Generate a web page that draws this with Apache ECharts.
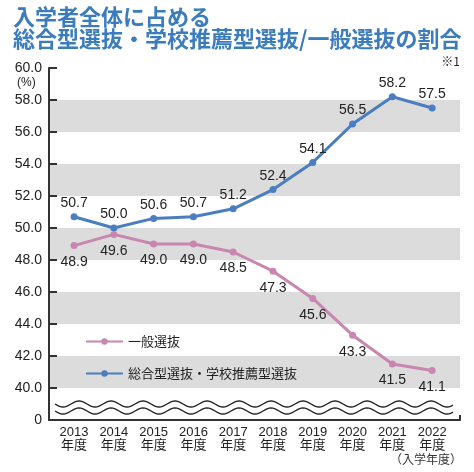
<!DOCTYPE html>
<html><head><meta charset="utf-8">
<script src="https://cdn.jsdelivr.net/npm/echarts@6/dist/echarts.min.js"></script>
<style>html,body{margin:0;padding:0;background:#fff}#c{width:474px;height:472px}</style>
</head><body><div id="c"></div>
<script>
const years = [2013, 2014, 2015, 2016, 2017, 2018, 2019, 2020, 2021, 2022];
const sogoValues = [50.7, 50.0, 50.6, 50.7, 51.2, 52.4, 54.1, 56.5, 58.2, 57.5];
const ippanValues = [48.9, 49.6, 49.0, 49.0, 48.5, 47.3, 45.6, 43.3, 41.5, 41.1];
const yTicks = [40, 42, 44, 46, 48, 50, 52, 54, 56, 58, 60];
const sogoName = '総合型選抜・学校推薦型選抜';
const ippanName = '一般選抜';

const FONT = '"Liberation Sans", "Noto Sans CJK JP", sans-serif';
const TFONT = '"Noto Sans CJK JP", sans-serif';
const BLUE = '#4a7ec0';
const PINK = '#c886b0';
const chart = echarts.init(document.getElementById('c'));

const xMin = 2012.37, xMax = 2022.7;
function wave(y) {
  const pts = [];
  for (let x = 55; x <= 453; x += 2) pts.push([x, y + 3 * Math.sin((x - 55) / 32 * 2 * Math.PI)]);
  return pts;
}

chart.setOption({
  animation: false,
  textStyle: { fontFamily: FONT },
  title: {
    text: '入学者全体に占める\n総合型選抜・学校推薦型選抜/一般選抜の割合',
    left: 8, top: 1,
    textStyle: { color: '#3b7cbf', fontSize: 22, fontWeight: 'bold', lineHeight: 22, fontFamily: TFONT }
  },
  legend: {
    orient: 'vertical', left: 85, top: 335, padding: 0, itemGap: 19, itemWidth: 37, itemHeight: 8,
    data: [ippanName, sogoName],
    textStyle: { fontSize: 13, color: '#222', fontFamily: TFONT }
  },
  grid: [
    { left: 49, right: 14, top: 68, height: 320 },
    { left: 49, right: 14, top: 388, height: 32 }
  ],
  xAxis: [
    { gridIndex: 0, type: 'value', min: xMin, max: xMax, show: false, splitLine: { show: false } },
    { gridIndex: 1, type: 'value', min: xMin, max: xMax, splitNumber: 10, minInterval: 1, maxInterval: 1,
      axisLine: { show: true, lineStyle: { color: '#333', width: 2 } },
      axisTick: { show: false }, splitLine: { show: false },
      axisLabel: { showMinLabel: false, showMaxLabel: false, margin: 6, fontSize: 13, lineHeight: 13, color: '#222',
        formatter: v => (Math.abs(v - Math.round(v)) < 1e-6 ? Math.round(v) + '\n年度' : '') } }
  ],
  yAxis: [
    { gridIndex: 0, type: 'value', min: yTicks[0], max: yTicks[yTicks.length - 1], interval: 2,
      axisLine: { show: true, lineStyle: { color: '#333', width: 2 } },
      axisTick: { show: true, inside: true, length: 8, lineStyle: { color: '#333', width: 2 } },
      splitLine: { show: false },
      splitArea: { show: true, areaStyle: { color: ['#dcdcdc', '#ffffff'] } },
      axisLabel: { fontSize: 14, color: '#222', margin: 7, formatter: v => v.toFixed(1) } },
    { gridIndex: 1, type: 'value', min: 0, max: 1, interval: 1,
      axisLine: { show: true, lineStyle: { color: '#333', width: 2 } },
      axisTick: { show: false }, splitLine: { show: false },
      axisLabel: { fontSize: 14, color: '#222', margin: 7, formatter: v => (v === 0 ? '0' : '') } }
  ],
  series: [
    { name: sogoName, type: 'line', xAxisIndex: 0, yAxisIndex: 0,
      data: years.map((y, i) => [y, sogoValues[i]]),
      color: BLUE, lineStyle: { width: 3 }, symbol: 'circle', symbolSize: 7,
      label: { show: true, position: 'top', distance: 3, fontSize: 14, color: '#222', formatter: p => p.value[1].toFixed(1) } },
    { name: ippanName, type: 'line', xAxisIndex: 0, yAxisIndex: 0,
      data: years.map((y, i) => [y, ippanValues[i]]),
      color: PINK, lineStyle: { width: 3 }, symbol: 'circle', symbolSize: 7,
      label: { show: true, position: 'bottom', distance: 6, fontSize: 14, color: '#222', formatter: p => p.value[1].toFixed(1) } }
  ],
  graphic: [
    { type: 'polyline', shape: { points: wave(404) }, style: { stroke: '#222', lineWidth: 1.3, fill: null } },
    { type: 'polyline', shape: { points: wave(411) }, style: { stroke: '#222', lineWidth: 1.3, fill: null } },
    { type: 'line', shape: { x1: 460, y1: 415, x2: 460, y2: 420 }, style: { stroke: '#333', lineWidth: 2 } },
    { type: 'text', left: 17, top: 77, style: { text: '(%)', fontSize: 12, fill: '#222', fontFamily: FONT } },
    { type: 'text', right: 14, top: 55, style: { text: '※1', fontSize: 12, fill: '#222', fontFamily: TFONT } },
    { type: 'text', right: 12, top: 453, style: { text: '（入学年度）', fontSize: 12, fill: '#333', fontFamily: TFONT } }
  ]
});
</script></body></html>
